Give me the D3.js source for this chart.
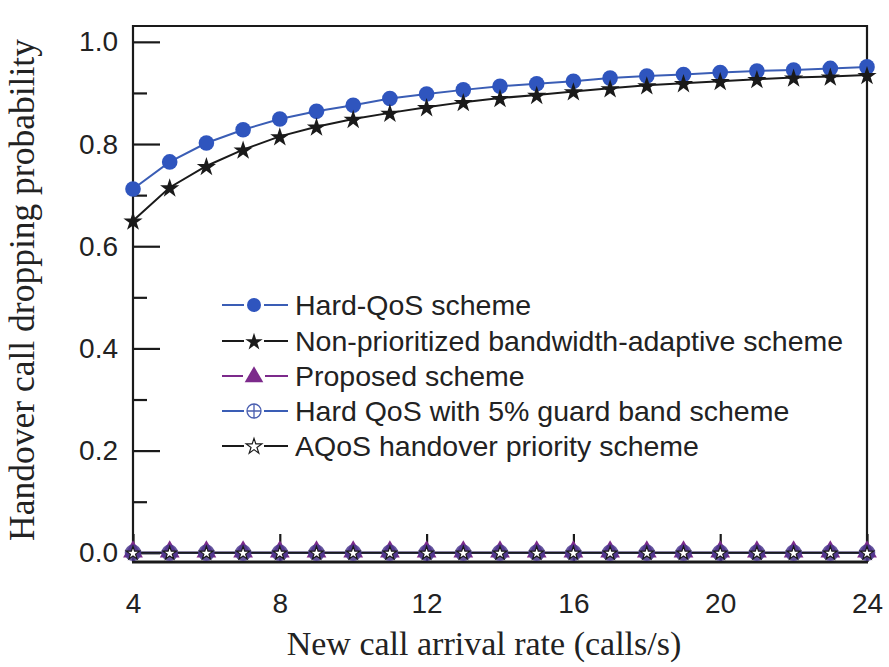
<!DOCTYPE html>
<html>
<head>
<meta charset="utf-8">
<script src="https://cdn.jsdelivr.net/npm/d3@7"></script>
<style>
  html, body { margin: 0; padding: 0; background: #fff; }
  svg { display: block; }
</style>
</head>
<body>
<svg id="chart" width="889" height="667"></svg>
<script>
// ---- data ----
const rates = [4,5,6,7,8,9,10,11,12,13,14,15,16,17,18,19,20,21,22,23,24];
const hardQoS = [0.712,0.765,0.802,0.828,0.849,0.864,0.876,0.889,0.898,0.906,0.913,0.918,0.923,0.929,0.933,0.936,0.940,0.943,0.945,0.948,0.951];
const nonPrioritized = [0.650,0.715,0.757,0.789,0.815,0.834,0.849,0.861,0.872,0.882,0.890,0.896,0.903,0.909,0.915,0.919,0.923,0.927,0.930,0.932,0.935];
const proposed = [0,0,0,0,0,0,0,0,0,0,0,0,0,0,0,0,0,0,0,0,0];
const hardQoSGuard = [0,0,0,0,0,0,0,0,0,0,0,0,0,0,0,0,0,0,0,0,0];
const aqos = [0,0,0,0,0,0,0,0,0,0,0,0,0,0,0,0,0,0,0,0,0];
const xTicks = [4,8,12,16,20,24];
const yTicks = [0,0.2,0.4,0.6,0.8,1.0];
const yMinorTicks = [0.1,0.3,0.5,0.7,0.9];
const legendLabels = ["Hard-QoS scheme","Non-prioritized bandwidth-adaptive scheme","Proposed scheme","Hard QoS with 5% guard band scheme","AQoS handover priority scheme"];

// ---- layout ----
const L = 133, R = 867, T = 26, B = 562;
const svg = d3.select("#chart");
const x = d3.scaleLinear().domain([4,24]).range([L,R]);
const y = d3.scaleLinear().domain([-0.018,1.031]).range([B,T]);

const sansFont = "'Liberation Sans', Arial, sans-serif";
const serifFont = "'Liberation Serif', 'Times New Roman', serif";
const blue = "#2f55be", blueLine = "#3a5db5", purple = "#7c2a8b", black = "#1a1a1a";

// axes
const yAxis = d3.axisLeft(y).tickValues(yTicks).tickSize(-27).tickPadding(15).tickFormat(d3.format(".1f"));
const gy = svg.append("g").attr("transform", `translate(${L},0)`).call(yAxis);
const yMinor = d3.axisLeft(y).tickValues(yMinorTicks).tickSize(-14).tickFormat("");
const gym = svg.append("g").attr("transform", `translate(${L},0)`).call(yMinor);
const xAxis = d3.axisBottom(x).tickValues(xTicks).tickSize(-28).tickPadding(31).tickFormat(d3.format("d"));
const gx = svg.append("g").attr("transform", `translate(0,${B})`).call(xAxis);
[gy, gym, gx].forEach(g => {
  g.select(".domain").remove();
  g.selectAll(".tick line").attr("stroke", black).attr("stroke-width", 2.2);
  g.selectAll(".tick text").attr("fill", "#222").style("font-family", sansFont).style("font-size", "28px");
});

// frame
svg.append("path")
  .attr("d", `M${L},${B}V${T}H${R}V${B}`)
  .attr("fill", "none").attr("stroke", black).attr("stroke-width", 2.2);
svg.append("line").attr("x1", L-1).attr("x2", R+1).attr("y1", B).attr("y2", B)
  .attr("stroke", black).attr("stroke-width", 3);

// lines
const line = d3.line().x((d,i) => x(rates[i])).y(d => y(d));
svg.append("path").datum(hardQoS).attr("d", line).attr("fill","none").attr("stroke",blueLine).attr("stroke-width",2);
svg.append("path").datum(nonPrioritized).attr("d", line).attr("fill","none").attr("stroke",black).attr("stroke-width",2);
svg.append("path").datum(proposed).attr("d", line).attr("fill","none").attr("stroke",purple).attr("stroke-width",2);
svg.append("path").datum(hardQoSGuard).attr("d", line).attr("fill","none").attr("stroke",blueLine).attr("stroke-width",2);
svg.append("path").datum(aqos).attr("d", line).attr("fill","none").attr("stroke",black).attr("stroke-width",2);

// marker drawers
const star = d3.symbol().type(d3.symbolStar);
const tri = d3.symbol().type(d3.symbolTriangle);
function drawCircle(g, cx, cy, r) {
  g.append("circle").attr("cx", cx).attr("cy", cy).attr("r", r).attr("fill", blue);
}
function drawBlackStar(g, cx, cy, s) {
  g.append("path").attr("d", star.size(s)()).attr("transform", `translate(${cx},${cy + 1})`).attr("fill", black);
}
function drawTriangle(g, cx, cy, s) {
  g.append("path").attr("d", tri.size(s)()).attr("transform", `translate(${cx},${cy})`).attr("fill", purple);
}
function drawCrossCircle(g, cx, cy, r) {
  g.append("circle").attr("cx", cx).attr("cy", cy).attr("r", r).attr("fill", "none").attr("stroke", "#4a5fb0").attr("stroke-width", 1.3);
  g.append("path").attr("d", `M${cx-r},${cy}H${cx+r}M${cx},${cy-r}V${cy+r}`).attr("stroke", "#4a5fb0").attr("stroke-width", 1.3);
}
function drawWhiteStar(g, cx, cy, s) {
  g.append("path").attr("d", star.size(s)()).attr("transform", `translate(${cx},${cy + 0.5})`)
    .attr("fill", "#fff").attr("stroke", black).attr("stroke-width", 1.2);
}

const mk = svg.append("g");
hardQoS.forEach((v,i) => drawCircle(mk, x(rates[i]), y(v), 7.8));
nonPrioritized.forEach((v,i) => drawBlackStar(mk, x(rates[i]), y(v), 115));
proposed.forEach((v,i) => drawTriangle(mk, x(rates[i]), y(v) - 1, 170));
hardQoSGuard.forEach((v,i) => {
  const cx = x(rates[i]), cy = y(v);
  mk.append("circle").attr("cx", cx).attr("cy", cy).attr("r", 8.3).attr("fill", "#4b3a8e").attr("opacity", 0.85);
});
aqos.forEach((v,i) => drawWhiteStar(mk, x(rates[i]), y(v), 55));

// legend
const lg = svg.append("g");
const rowY = [305, 341, 376, 411, 446];
const lineColors = [blueLine, black, purple, blueLine, black];
legendLabels.forEach((lab, i) => {
  const cy = rowY[i];
  lg.append("line").attr("x1", 222).attr("x2", 288).attr("y1", cy).attr("y2", cy)
    .attr("stroke", lineColors[i]).attr("stroke-width", 2);
  const mx = 254;
  if (i === 0) { lg.append("rect").attr("x", mx-10).attr("y", cy-10).attr("width", 20).attr("height", 20).attr("fill", "#fff"); drawCircle(lg, mx, cy, 7); }
  if (i === 1) { lg.append("rect").attr("x", mx-10).attr("y", cy-10).attr("width", 20).attr("height", 20).attr("fill", "#fff"); drawBlackStar(lg, mx, cy, 95); }
  if (i === 2) { lg.append("rect").attr("x", mx-11).attr("y", cy-11).attr("width", 22).attr("height", 22).attr("fill", "#fff"); drawTriangle(lg, mx, cy+1, 150); }
  if (i === 3) { lg.append("rect").attr("x", mx-10).attr("y", cy-10).attr("width", 20).attr("height", 20).attr("fill", "#fff"); drawCrossCircle(lg, mx, cy, 7); }
  if (i === 4) { lg.append("rect").attr("x", mx-10).attr("y", cy-10).attr("width", 20).attr("height", 20).attr("fill", "#fff"); drawWhiteStar(lg, mx, cy, 75); }
  lg.append("text").attr("x", 295).attr("y", cy).attr("dy", "0.35em")
    .style("font-family", sansFont).style("font-size", "28.5px").attr("fill", "#222").text(lab);
});

// axis titles
svg.append("text").attr("x", 484).attr("y", 655).attr("text-anchor", "middle")
  .style("font-family", serifFont).style("font-size", "34px").attr("fill", "#222")
  .text("New call arrival rate (calls/s)");
svg.append("text").attr("transform", `translate(34,290) rotate(-90)`).attr("text-anchor", "middle")
  .style("font-family", serifFont).style("font-size", "35.5px").attr("fill", "#222")
  .text("Handover call dropping probability");
</script>
</body>
</html>
